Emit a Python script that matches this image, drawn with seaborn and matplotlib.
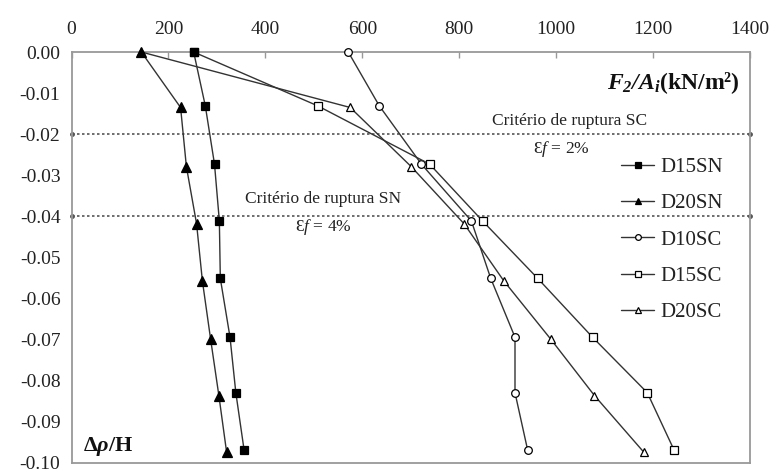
import pandas as pd
import matplotlib
matplotlib.use("Agg")
import matplotlib.pyplot as plt
import seaborn as sns

# valores (F2/Ai em kN/m², Δρ/H)
y_sn15 = [0.0, -0.0131, -0.0273, -0.0411, -0.0551, -0.0694, -0.0829, -0.0968]
y_sn20 = [0.0, -0.0135, -0.0279, -0.0418, -0.0557, -0.0699, -0.0836, -0.0974]

x_D15SN = [252, 276, 295, 305, 307, 327, 339, 356]
x_D20SN = [144, 225, 237, 258, 270, 287, 304, 320]
x_D10SC = [571, 635, 722, 825, 865, 915, 915, 941]
x_D15SC = [252, 508, 739, 848, 962, 1075, 1188, 1243]
x_D20SC = [144, 575, 701, 810, 892, 989, 1079, 1181]

series = [
    ("D15SN", x_D15SN, y_sn15, "s", "black", 6.0, 5),
    ("D20SN", x_D20SN, y_sn20, "^", "black", 6.5, 5),
    ("D10SC", x_D10SC, y_sn15, "o", "white", 5.5, 3),
    ("D15SC", x_D15SC, y_sn15, "s", "white", 5.5, 3),
    ("D20SC", x_D20SC, y_sn20, "^", "white", 5.5, 3),
]

sns.set_style("white")
plt.rcParams["font.family"] = ["Liberation Serif", "DejaVu Serif"]
plt.rcParams["mathtext.fontset"] = "custom"
plt.rcParams["mathtext.rm"] = "Liberation Serif"
plt.rcParams["mathtext.it"] = "Liberation Serif:italic"
plt.rcParams["mathtext.bf"] = "Liberation Serif:bold"
plt.rcParams["mathtext.bfit"] = "Liberation Serif:bold:italic"

fig = plt.figure(figsize=(7.7, 4.69), dpi=100)
ax = fig.add_axes([0.0929, 0.0128, 0.8812, 0.8763])

for name, xs, ys, mk, fc, ms, z in series:
    df = pd.DataFrame({"x": xs, "y": ys})
    sns.lineplot(data=df, x="x", y="y", sort=False, estimator=None, ax=ax,
                 color="#333333", linewidth=1.0, marker=mk, markersize=ms,
                 markerfacecolor=fc, markeredgecolor="black",
                 markeredgewidth=0.9, label=name, clip_on=False, zorder=z)

# critérios de ruptura
for yv in (-0.02, -0.04):
    ax.axhline(yv, color="#555555", linestyle=(0, (1.5, 1.5)), linewidth=1.2,
               zorder=1)
    ax.plot([0, 1400], [yv, yv], "o", color="#555555", markersize=2.5,
            clip_on=False, zorder=1)

ax.text(1028, -0.0167, "Critério de ruptura SC", ha="center", va="center",
        fontsize=12.5, color="#222222")
ax.text(1010, -0.0236, r"Ɛ$\mathit{f}$ = 2%", ha="center", va="center",
        fontsize=12.5, color="#222222")
ax.text(519, -0.0358, "Critério de ruptura SN", ha="center", va="center",
        fontsize=12.5, color="#222222")
ax.text(519, -0.0426, r"Ɛ$\mathit{f}$ = 4%", ha="center", va="center",
        fontsize=12.5, color="#222222")

ax.text(0.985, 0.925, r"$\mathbfit{F_2/A_i}$(kN/m²)", transform=ax.transAxes,
        ha="right", va="center", fontsize=17, fontweight="bold",
        color="#111111")
ax.text(0.017, 0.039, r"$\mathbf{\Delta}\mathbfit{\rho}\mathbf{/H}$",
        transform=ax.transAxes, ha="left", va="center", fontsize=16,
        color="#111111")

ax.set_xlim(0, 1400)
ax.set_ylim(-0.10, 0.0)
ax.set_xticks(range(0, 1401, 200))
ax.set_yticks([i / 100 for i in range(0, -11, -1)])
ax.yaxis.set_major_formatter(matplotlib.ticker.FormatStrFormatter("%.2f"))
ax.xaxis.tick_top()
ax.set_xlabel("")
ax.set_ylabel("")
ax.tick_params(axis="x", direction="in", length=4, width=1.0, color="#999999",
               labelsize=14, labelcolor="#222222", pad=10)
ax.tick_params(axis="y", direction="in", length=4, width=1.0, color="#999999",
               labelsize=14, labelcolor="#222222", pad=8)
for sp in ax.spines.values():
    sp.set_visible(True)
    sp.set_color("#999999")
    sp.set_linewidth(1.3)

leg = ax.legend(loc="upper left", bbox_to_anchor=(0.81, 0.743), frameon=False,
                fontsize=15, handlelength=1.6, handletextpad=0.3,
                labelspacing=0.8, borderpad=0, borderaxespad=0,
                markerscale=0.75)
for t in leg.get_texts():
    t.set_color("#222222")

fig.savefig("out.png", dpi=100)
